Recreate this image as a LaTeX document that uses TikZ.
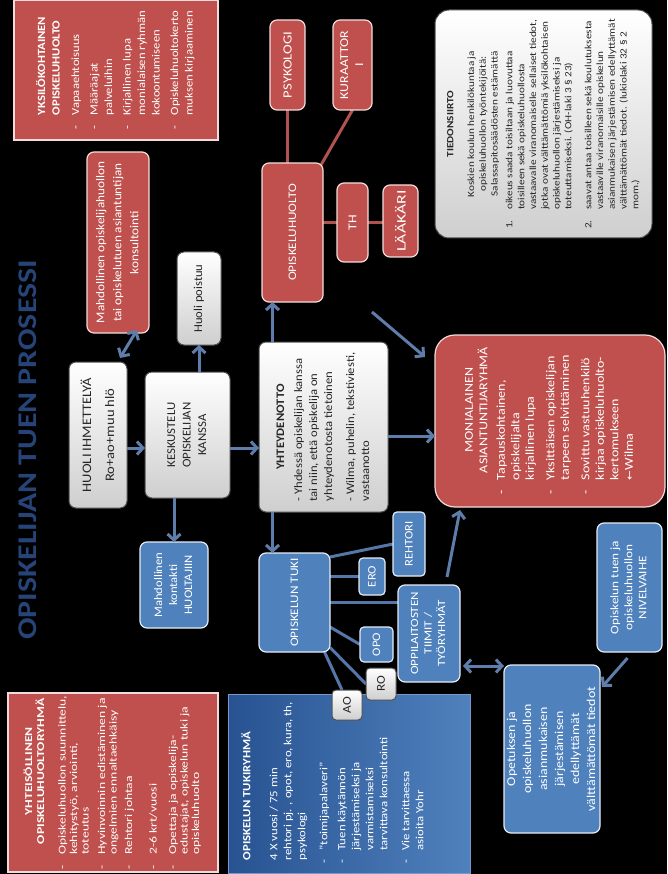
\documentclass[tikz,border=0pt]{standalone}
\usepackage{fontspec}
\setmainfont{Carlito}
\newfontfamily\dejavu{DejaVu Sans}
\usepackage{graphicx}
\usetikzlibrary{arrows.meta,calc,backgrounds}

\definecolor{redf}{RGB}{192,80,77}
\definecolor{redb}{RGB}{242,220,219}
\definecolor{bluef}{RGB}{79,129,189}
\definecolor{blued}{RGB}{40,82,145}
\definecolor{arrc}{RGB}{95,125,170}
\definecolor{linec}{RGB}{85,118,168}
\definecolor{redl}{RGB}{175,82,80}
\definecolor{titlec}{RGB}{38,68,120}
\definecolor{grayb}{RGB}{80,80,80}

\newcommand\T[4]{\scalebox{#1}[1]{\fontsize{#2}{#3}\selectfont#4}}
\newcommand\ctab[1]{\begin{tabular}{@{}c@{}}#1\end{tabular}}

\tikzset{
  base/.style={rotate=90, inner sep=0pt, outer sep=0pt},
  redsq/.style={base, fill=redf, draw=redb, line width=1.2pt, text=white},
  redrd/.style={redsq, rounded corners=7pt},
  bluerd/.style={base, fill=bluef, draw=white!85!bluef, line width=1.2pt, text=white, rounded corners=7pt},
  grayrd/.style={base, top color=white, bottom color=gray!38, draw=grayb, line width=1pt, text=black!85, rounded corners=7pt},
  arr/.style={draw=arrc, line width=3pt, -{Straight Barb[length=6pt,width=13pt]}},
  darr/.style={draw=arrc, line width=3pt, {Straight Barb[length=6pt,width=13pt]}-{Straight Barb[length=6pt,width=13pt]}},
  conn/.style={draw=linec, line width=3pt},
  rconn/.style={draw=redl, line width=3pt},
}

\begin{document}
\begin{tikzpicture}[x=1pt,y=-1pt]
\useasboundingbox (0,0) rectangle (667,874);
\begin{scope}[on background layer]
\fill[black] (0,0) rectangle (667,874);
\end{scope}

% title
\node[rotate=90, text=titlec, font=\bfseries, inner sep=0pt] (title) at (28,450)
  {\T{1.18}{27}{30}{OPISKELIJAN TUEN PROSESSI}};

% left column
\node[redsq, minimum width=140pt, minimum height=204pt] (yksi) at (116,70)
  {\T{1.15}{11}{14.5}{\begin{tabular}{@{}l@{\hspace{9pt}}l@{}}
   & \textbf{YKSILÖKOHTAINEN}\\
   & \textbf{OPISKELUHUOLTO}\\[5pt]
  - & Vapaaehtoisuus\\[4pt]
  - & Määräajat\\
    & palveluihin\\[4pt]
  - & Kirjallinen lupa\\
    & monialaisen ryhmän\\
    & kokoontumiseen\\[4pt]
  - & Opiskeluhuoltokerto\\
    & muksen kirjaaminen
  \end{tabular}}};

\node[redrd, minimum width=181pt, minimum height=62pt] (kons) at (118,242.5)
  {\T{1.1}{12}{17}{\ctab{Mahdollinen opiskelijahuollon\\tai opiskelutuen asiantuntijan\\konsultointi}}};

\node[grayrd, minimum width=93pt, minimum height=44pt] (poist) at (199,298.5)
  {\T{1.05}{12}{14}{Huoli poistuu}};

\node[grayrd, minimum width=146pt, minimum height=58pt] (huoli) at (98,435)
  {\T{1.12}{13}{23}{\ctab{HUOLI IHMETTELYÄ\\Ro+ao+muu hlö}}};

\node[grayrd, minimum width=126pt, minimum height=85pt] (kesk) at (187.5,435)
  {\T{1.07}{12}{15.5}{\ctab{KESKUSTELU\\OPISKELIJAN\\KANSSA}}};

\node[bluerd, minimum width=86pt, minimum height=68pt] (kont) at (174,585)
  {\T{1.1}{11.5}{15}{\ctab{Mahdollinen\\kontakti\\HUOLTAJIIN}}};

\node[redsq, minimum width=179pt, minimum height=210pt] (yhteis) at (113,782.5)
  {\T{1.3}{10.5}{11.5}{\begin{tabular}{@{}l@{\hspace{8pt}}l@{}}
   & \multicolumn{1}{c@{}}{\textbf{YHTEISÖLLINEN}}\\
   & \multicolumn{1}{c@{}}{\textbf{OPISKELUHUOLTORYHMÄ}}\\[10pt]
  - & Opiskeluhuollon suunnittelu,\\
    & kehitystyö, arviointi,\\
    & toteutus\\[5pt]
  - & Hyvinvoinnin edistäminen ja\\
    & ongelmien ennaltaehkäisy\\[4pt]
  - & Rehtori johtaa\\[13pt]
  - & 2-6 krt/vuosi\\[8pt]
  - & Opettaja ja opiskelija-\\
    & edustajat, opiskelun tuki ja\\
    & opiskeluhuolto
  \end{tabular}}};

% middle column
\node[redrd, minimum width=139pt, minimum height=61pt] (ohuolto) at (292.5,232.5)
  {\T{1.15}{11.5}{14}{OPISKELUHUOLTO}};
\node[redrd, minimum width=90pt, minimum height=35pt] (psyk) at (287.5,65)
  {\T{1.17}{12.5}{14}{PSYKOLOGI}};
\node[redrd, minimum width=90pt, minimum height=39pt] (kura) at (352.5,65)
  {\T{1.15}{12}{15}{\ctab{KURAATTOR\\I}}};
\node[redrd, minimum width=79pt, minimum height=31pt] (th) at (352.5,222.5)
  {\T{1.15}{12}{14}{TH}};
\node[redrd, minimum width=72pt, minimum height=35pt] (laak) at (400.5,221)
  {\T{1.35}{13}{14}{LÄÄKÄRI}};

\node[grayrd, minimum width=170pt, minimum height=129pt] (yht) at (323.5,427)
  {\T{1.1}{11.5}{15}{\begin{tabular}{@{}l@{}}
   \multicolumn{1}{@{}c@{}}{\textbf{YHTEYDENOTTO}}\\[3pt]
   - Yhdessä opiskelijan kanssa\\
   tai niin, että opiskelija on\\
   yhteydenotosta tietoinen\\[7pt]
   - Wilma, puhelin, tekstiviesti,\\
   vastaanotto
  \end{tabular}}};

\node[base, left color=blued, right color=bluef, draw=bluef!80!white, line width=0.8pt,
  minimum width=179pt, minimum height=242pt] (tukir) at (349,783.5) {};
\node[base, text=white] (tukirtx) at (334,783)
  {\T{1.16}{11}{14}{\begin{tabular}{@{}l@{\hspace{8pt}}l@{}}
   \multicolumn{2}{@{}l@{}}{\hspace{3pt}\textbf{OPISKELUN TUKIRYHMÄ}}\\[13pt]
   \multicolumn{2}{@{}l@{}}{\hspace{3pt}4 X vuosi / 75 min}\\
   \multicolumn{2}{@{}l@{}}{\hspace{3pt}rehtori pj. , opot, ero, kura, th,}\\
   \multicolumn{2}{@{}l@{}}{\hspace{3pt}psykologi}\\[8pt]
   - & ”toimijapalaveri”\\[4pt]
   - & Tuen käytännön\\
     & järjestämiseksi ja\\
     & varmistamiseksi\\
     & tarvittava konsultointi\\[8pt]
   - & Vie tarvittaessa\\
     & asioita Yohr
  \end{tabular}}};

\node[bluerd, minimum width=99pt, minimum height=71pt] (tuki) at (294.5,602.5)
  {\T{1.15}{11.5}{14}{OPISKELUN TUKI}};
\node[bluerd, rounded corners=4pt, minimum width=37pt, minimum height=26pt] (ero) at (372,576.5)
  {\T{1.1}{11.5}{14}{ERO}};
\node[bluerd, rounded corners=4pt, minimum width=64pt, minimum height=32pt] (rehtori) at (409,544)
  {\T{1.1}{11.5}{14}{REHTORI}};
\node[bluerd, rounded corners=4pt, minimum width=35pt, minimum height=33pt] (opo) at (376.5,644.5)
  {\T{1.1}{11.5}{14}{OPO}};
\node[bluerd, minimum width=97pt, minimum height=62pt] (oppi) at (429,633.5)
  {\T{1.18}{11}{13.5}{\ctab{OPPILAITOSTEN\\TIIMIT /\\TYÖRYHMÄT}}};
\node[grayrd, rounded corners=4pt, minimum width=32pt, minimum height=30pt] (ro) at (381,684)
  {\T{1.1}{12}{14}{RO}};
\node[grayrd, rounded corners=4pt, minimum width=30pt, minimum height=30pt] (ao) at (347,705)
  {\T{1.1}{12}{14}{AO}};

% right column
\node[grayrd, rounded corners=14pt, draw=black!70, minimum width=228pt, minimum height=217pt] (tied) at (543.5,124)
  {\T{1.18}{9.5}{11.8}{\begin{tabular}{@{}l@{\hspace{9pt}}l@{}}
   \multicolumn{2}{@{}c@{}}{\textbf{TIEDONSIIRTO}}\\[9pt]
   \multicolumn{2}{@{}c@{}}{Koskien koulun henkilökuntaa ja}\\
   \multicolumn{2}{@{}c@{}}{opiskeluhuollon työntekijöitä:}\\
   \multicolumn{2}{@{}c@{}}{Salassapitosäädösten estämättä}\\[3pt]
   1. & oikeus saada toisiltaan ja luovuttaa\\
      & toisilleen sekä opiskeluhuollosta\\
      & vastaavalle viranomaiselle sellaiset tiedot,\\
      & jotka ovat välttämättömiä yksilökohtaisen\\
      & opiskeluhuollon järjestämiseksi ja\\
      & toteuttamiseksi. (OH-laki 3 § 23)\\[8pt]
   2. & saavat antaa toisilleen sekä koulutuksesta\\
      & vastaaville viranomaisille opiskelun\\
      & asianmukaisen järjestämisen edellyttämät\\
      & välttämättömät tiedot. (lukiolaki 32 § 2\\
      & mom.)
  \end{tabular}}};

\node[redrd, rounded corners=20pt, minimum width=172pt, minimum height=230pt] (moni) at (550,421)
  {\T{1.17}{12}{14.5}{\begin{tabular}{@{}l@{\hspace{9pt}}l@{}}
   & \multicolumn{1}{c@{}}{MONIALAINEN}\\
   & \multicolumn{1}{c@{}}{ASIANTUNTIJARYHMÄ}\\[3pt]
  - & Tapauskohtainen,\\
    & opiskelijalta\\
    & kirjallinen lupa\\[6pt]
  - & Yksittäisen opiskelijan\\
    & tarpeen selvittäminen\\[6pt]
  - & Sovittu vastuuhenkilö\\
    & kirjaa opiskeluhuolto-\\
    & kertomukseen\\
    & {\dejavu\fontsize{10}{12}\selectfont ←}Wilma
  \end{tabular}}};

\node[bluerd, minimum width=129pt, minimum height=65pt] (nivel) at (629.5,587.5)
  {\T{1.15}{11.5}{14}{\ctab{Opiskelun tuen ja\\opiskeluhuollon\\NIVELVAIHE}}};
\node[bluerd, minimum width=168pt, minimum height=96pt] (opet) at (552,749)
  {\T{1.16}{12}{16}{\ctab{Opetuksen ja\\opiskeluhuollon\\asianmukaisen\\järjestämisen\\edellyttämät\\välttämättömät tiedot}}};

% connectors behind boxes
\begin{scope}[on background layer]
\draw[conn] ($(tuki.south)+(0,-45.5)$) -- (rehtori.north);
\draw[conn] (tuki.south |- ero.north) -- (ero.north);
\draw[conn] (tuki.south) -- (tuki.south -| oppi.north);
\draw[conn] ($(tuki.south)+(0,24.5)$) -- (opo.north);
\draw[conn] ($(tuki.west)+(30,0)$) -- ($(ao.east)+(-5,0)$);
\draw[conn] ($(tuki.south)+(0,45)$) -- (ro.north);
\draw[rconn] (psyk.west) -- (psyk.west |- ohuolto.east);
\draw[rconn] (kura.west) -- ($(ohuolto.east)+(24.5,9)$);
\draw[rconn] (th.north -| ohuolto.south) -- (th.north);
\draw[rconn] (th.south) -- (th.south -| laak.north);
\end{scope}

% arrows
\draw[arr] ($(huoli.south)+(0,13)$) -- ($(kesk.north)+(0,13)$);
\draw[darr] ($(huoli.east)+(22,-4)$) -- ($(kons.west)+(19,-3)$);
\draw[arr] (poist.west |- kesk.east) -- (poist.west);
\draw[arr] (kont.east |- kesk.west) -- (kont.east);
\coordinate (a5) at ($(kesk.south)+(0,13)$);
\draw[arr] (a5) -- (a5 -| yht.north);
\coordinate (a6) at ($(ohuolto.west)+(-20,0)$);
\draw[arr] (a6 |- yht.east) -- (a6);
\coordinate (a7) at ($(tuki.east)+(-22,0)$);
\draw[arr] (a7 |- yht.west) -- (a7);
\coordinate (a8) at ($(yht.south)+(0,9)$);
\draw[arr] (a8) -- (a8 -| moni.north);
\coordinate (d1) at (372,312);
\draw[arr] (d1) -- ($(moni.north)+(-10,-64)$);
\draw[arr] ($(oppi.east)+(18,-8)$) -- ($(moni.west)+(-90,3)$);
\coordinate (a11) at ($(oppi.south)+(3,32.5)$);
\draw[darr] (a11) -- (a11 -| opet.north);
\draw[arr] ($(nivel.west)+(-2,6)$) -- ($(opet.south)+(2,-62)$);
\end{tikzpicture}
\end{document}
